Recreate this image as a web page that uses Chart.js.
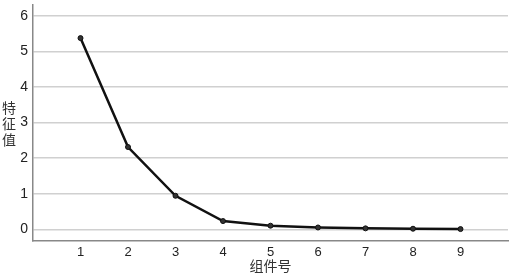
<!DOCTYPE html>
<html>
<head>
<meta charset="utf-8">
<script src="https://cdn.jsdelivr.net/npm/chart.js@4/dist/chart.umd.min.js"></script>
<style>
  html, body { margin: 0; padding: 0; background: #fff; }
  #wrap { width: 515px; height: 279px; position: relative; }
</style>
</head>
<body>
<div id="wrap"><canvas id="scree"></canvas></div>
<script>
// scree plot data
const components = [1, 2, 3, 4, 5, 6, 7, 8, 9];
const eigenvalues = [5.37, 2.31, 0.94, 0.23, 0.10, 0.05, 0.025, 0.015, 0.005];
const yTicks = [0, 1, 2, 3, 4, 5, 6];
const xTitle = '组件号';
const yTitle = ['特', '征', '值'];

const font = "'Liberation Sans', Arial, 'Noto Sans CJK SC', sans-serif";
const cjkFont = "'Noto Sans CJK SC', sans-serif";

// vertical stacked y-axis title
const yTitlePlugin = {
  id: 'yTitle',
  afterDraw(chart) {
    const ctx = chart.ctx;
    ctx.save();
    ctx.fillStyle = '#333';
    ctx.font = '14px ' + cjkFont;
    ctx.textAlign = 'center';
    ctx.textBaseline = 'middle';
    yTitle.forEach((ch, i) => ctx.fillText(ch, 9, 108 + i * 16));
    ctx.restore();
  }
};

const ctx = document.getElementById('scree').getContext('2d');
new Chart(ctx, {
  type: 'line',
  data: {
    datasets: [{
      data: components.map((c, i) => ({ x: c, y: eigenvalues[i] })),
      borderColor: '#111',
      borderWidth: 2.5,
      pointRadius: 2.5,
      pointBackgroundColor: '#333',
      pointBorderColor: '#111',
      pointBorderWidth: 1,
      tension: 0
    }]
  },
  options: {
    responsive: true,
    maintainAspectRatio: false,
    animation: false,
    layout: { padding: { top: 0, right: 7, left: 0, bottom: 0 } },
    plugins: { legend: { display: false }, tooltip: { enabled: false } },
    scales: {
      x: {
        type: 'linear',
        min: 0,
        max: 10,
        afterBuildTicks: s => { s.ticks = components.map(v => ({ value: v })); },
        afterFit: s => { s.height = 38; s.paddingLeft = 0; s.paddingRight = 0; },
        grid: { display: false, drawTicks: false },
        border: { display: true, color: '#888', width: 1.5 },
        ticks: { color: '#222', font: { family: font, size: 13 }, padding: 4, maxRotation: 0 },
        title: { display: true, text: xTitle, color: '#333', font: { family: cjkFont, size: 14 }, padding: { top: 0, bottom: 5 } }
      },
      y: {
        min: -0.33,
        max: 6.3,
        afterBuildTicks: s => { s.ticks = yTicks.map(v => ({ value: v })); },
        afterFit: s => { s.width = 33; s.paddingTop = 0; s.paddingBottom = 0; },
        grid: { color: '#d0d0d0', lineWidth: 1.5, drawTicks: false },
        border: { display: true, color: '#888', width: 1.5 },
        ticks: { color: '#222', font: { family: font, size: 14 }, padding: 5 }
      }
    }
  },
  plugins: [yTitlePlugin]
});
</script>
</body>
</html>
